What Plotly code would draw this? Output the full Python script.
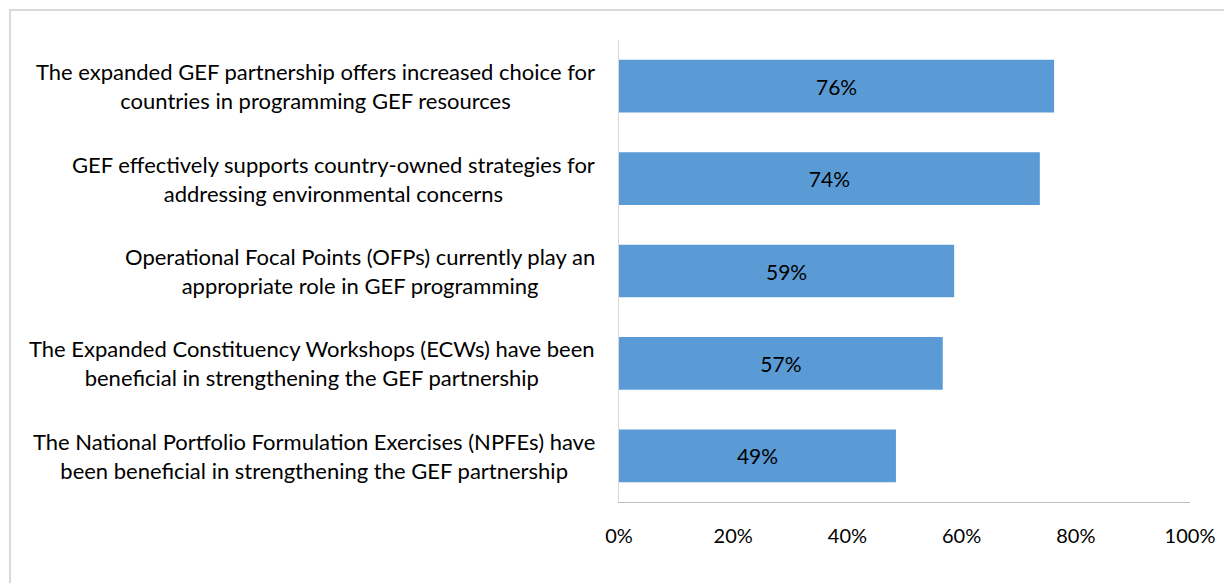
import plotly.graph_objects as go

categories = [
    "The expanded GEF partnership offers increased choice for<br>countries in programming GEF resources",
    "GEF effectively supports country-owned strategies for<br>addressing environmental concerns",
    "Operational Focal Points (OFPs) currently play an<br>appropriate role in GEF programming",
    "The Expanded Constituency Workshops (ECWs) have been<br>beneficial in strengthening the GEF partnership",
    "The National Portfolio Formulation Exercises (NPFEs) have<br>been beneficial in strengthening the GEF partnership",
]
values = [0.762, 0.737, 0.587, 0.567, 0.485]
labels = ["76%", "74%", "59%", "57%", "49%"]
tick_vals = [0, 0.2, 0.4, 0.6, 0.8, 1.0]
tick_text = ["0%", "20%", "40%", "60%", "80%", "100%"]

FONT = "Lato, Carlito, Calibri, sans-serif"
OFF = 8  # page body margin
W, H = 1232 - OFF, 583 - OFF
L, R, T, B = 619 - OFF, 42, 40 - OFF, 81
pw, ph = W - L - R, H - T - B

fig = go.Figure(go.Bar(
    x=values, y=list(range(len(categories))), orientation="h",
    marker=dict(color="#5B9BD5", line=dict(width=0)),
    width=0.57,
    text=labels, textposition="inside", insidetextanchor="middle",
    textfont=dict(family=FONT, size=21, color="#000000"),
    hoverinfo="skip",
))

annotations = []
for i, c in enumerate(categories):
    annotations.append(dict(
        x=0, xref="paper", y=i, yref="y", text=c, showarrow=False,
        xanchor="right", yanchor="middle", align="center", xshift=-22,
        font=dict(family=FONT, size=22, color="#000000"),
    ))

# outer chart border
bx0 = (10 - OFF - L) / pw
bx1 = (W + 5 - L) / pw
by1 = 1 + (T - (10 - OFF)) / ph
by0 = -(B + 5) / ph

fig.update_layout(
    width=W, height=H,
    margin=dict(l=L, r=R, t=T, b=B),
    plot_bgcolor="white", paper_bgcolor="white",
    showlegend=False,
    annotations=annotations,
    shapes=[dict(type="rect", xref="paper", yref="paper", x0=bx0, x1=bx1, y0=by0, y1=by1,
                 line=dict(color="#d9d9d9", width=2), layer="below")],
    xaxis=dict(range=[0, 1], tickvals=tick_vals, ticktext=tick_text,
               showgrid=False, zeroline=False, showline=True, linecolor="#bfbfbf", linewidth=1,
               ticks="", ticklabelstandoff=16,
               tickfont=dict(family=FONT, size=20, color="#000000"), fixedrange=True),
    yaxis=dict(range=[4.5, -0.5], showticklabels=False, showgrid=False, zeroline=False,
               showline=True, linecolor="#d9d9d9", linewidth=1, ticks="", fixedrange=True),
)

fig.write_html("out.html")
